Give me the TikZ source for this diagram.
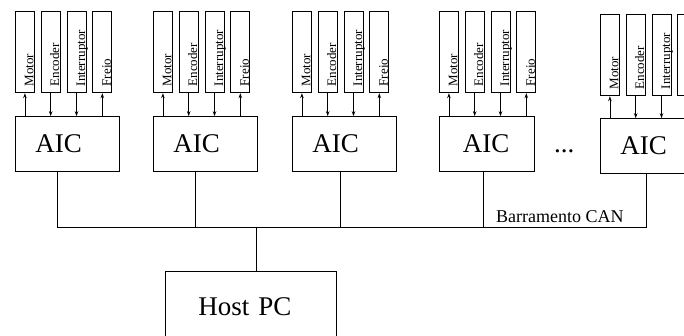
\documentclass[tikz,border=0pt]{standalone}
\usepackage{fontspec}
\setmainfont{Liberation Serif}
\usepackage{graphicx}
\usetikzlibrary{positioning, arrows.meta}

\newcommand{\vlabel}[1]{\rotatebox{90}{\raisebox{0pt}[17pt][0pt]{\makebox[68pt][l]{#1}}}}

\tikzset{
	aic/.style={draw, anchor=south west, minimum width=104pt, minimum height=55pt, text width=64pt, inner xsep=0pt, align=left, font=\fontsize{27}{27}\selectfont},
	sensor/.style={draw, minimum width=19pt, minimum height=81pt, inner sep=0pt, font=\fontsize{13}{13}\selectfont},
	host/.style={draw, anchor=south west, minimum width=171pt, minimum height=70pt, text width=105pt, inner xsep=0pt, align=left, font=\fontsize{27}{27}\selectfont}
}

\begin{document}
\begin{tikzpicture}[x=1pt, y=1pt, line width=0.8pt, >={Stealth[length=5pt, width=3.5pt]}]
	\path[use as bounding box] (0,0) rectangle (684,336);
	\clip (0,0) rectangle (684,336);

	\node[aic] 									(A1) at (15,164) 	{AIC};
	\node[aic] 									(A2) at (153,164) 	{AIC};
	\node[aic] 									(A3) at (292,164) 	{AIC};
	\node[aic, minimum width=95pt, text width=48pt] (A4) at (439,164) 	{AIC};
	\node[aic] 									(A5) at (600,162) 	{AIC};
	\node[inner sep=0pt, font=\fontsize{27}{27}\selectfont] (D) [right=19pt of A4, yshift=-7pt] {...};

	\node[sensor] (M1) [above right=23pt and 0pt of A1.north west] 	{\vlabel{Motor}};
	\node[sensor] (E1) [right=6pt of M1] 							{\vlabel{Encoder}};
	\node[sensor] (I1) [right=6pt of E1] 							{\vlabel{Interruptor}};
	\node[sensor] (F1) [right=6pt of I1] 							{\vlabel{Freio}};

	\node[sensor] (M2) [above right=23pt and 0pt of A2.north west] 	{\vlabel{Motor}};
	\node[sensor] (E2) [right=6pt of M2] 							{\vlabel{Encoder}};
	\node[sensor] (I2) [right=6pt of E2] 							{\vlabel{Interruptor}};
	\node[sensor] (F2) [right=6pt of I2] 							{\vlabel{Freio}};

	\node[sensor] (M3) [above right=23pt and 0pt of A3.north west] 	{\vlabel{Motor}};
	\node[sensor] (E3) [right=6pt of M3] 							{\vlabel{Encoder}};
	\node[sensor] (I3) [right=6pt of E3] 							{\vlabel{Interruptor}};
	\node[sensor] (F3) [right=6pt of I3] 							{\vlabel{Freio}};

	\node[sensor] (M4) [above right=23pt and 0pt of A4.north west] 	{\vlabel{Motor}};
	\node[sensor] (E4) [right=6pt of M4] 							{\vlabel{Encoder}};
	\node[sensor] (I4) [right=6pt of E4] 							{\vlabel{Interruptor}};
	\node[sensor] (F4) [right=6pt of I4] 							{\vlabel{Freio}};

	\node[sensor] (M5) [above right=22pt and 0pt of A5.north west] 	{\vlabel{Motor}};
	\node[sensor] (E5) [right=6pt of M5] 							{\vlabel{Encoder}};
	\node[sensor] (I5) [right=6pt of E5] 							{\vlabel{Interruptor}};
	\node[sensor] (F5) [right=6pt of I5] 							{\vlabel{Freio}};

	\node[host] (H) at (165,-6) {Host PC};

	\coordinate (b0) at (256,109);
	\coordinate (b1) at (57,109);
	\coordinate (b2) at (195,109);
	\coordinate (b3) at (340,109);
	\coordinate (b4) at (483,109);
	\coordinate (b5) at (646,109);
	\node[inner sep=0pt, font=\fontsize{18}{18}\selectfont] (L) [above left=4pt and 22pt of b5] {Barramento CAN};

	\draw (A1.south -| b1) -- (b1) -- (b5) -- (A5.south -| b5);
	\draw (A2.south -| b2) -- (b2);
	\draw (A3.south -| b3) -- (b3);
	\draw (A4.south -| b4) -- (b4);
	\draw (b0) -- (H.north -| b0);

	\path[->]
	(A1.north -| M1) 	edge (M1)
	(E1) 				edge (E1 |- A1.north)
	(I1) 				edge (I1 |- A1.north)
	(A1.north -| F1) 	edge (F1)
	(A2.north -| M2) 	edge (M2)
	(E2) 				edge (E2 |- A2.north)
	(I2) 				edge (I2 |- A2.north)
	(A2.north -| F2) 	edge (F2)
	(A3.north -| M3) 	edge (M3)
	(E3) 				edge (E3 |- A3.north)
	(I3) 				edge (I3 |- A3.north)
	(A3.north -| F3) 	edge (F3)
	(A4.north -| M4) 	edge (M4)
	(E4) 				edge (E4 |- A4.north)
	(I4) 				edge (I4 |- A4.north)
	(A4.north -| F4) 	edge (F4)
	(A5.north -| M5) 	edge (M5)
	(E5) 				edge (E5 |- A5.north)
	(I5) 				edge (I5 |- A5.north)
	(A5.north -| F5) 	edge (F5)
;
\end{tikzpicture}
\end{document}
